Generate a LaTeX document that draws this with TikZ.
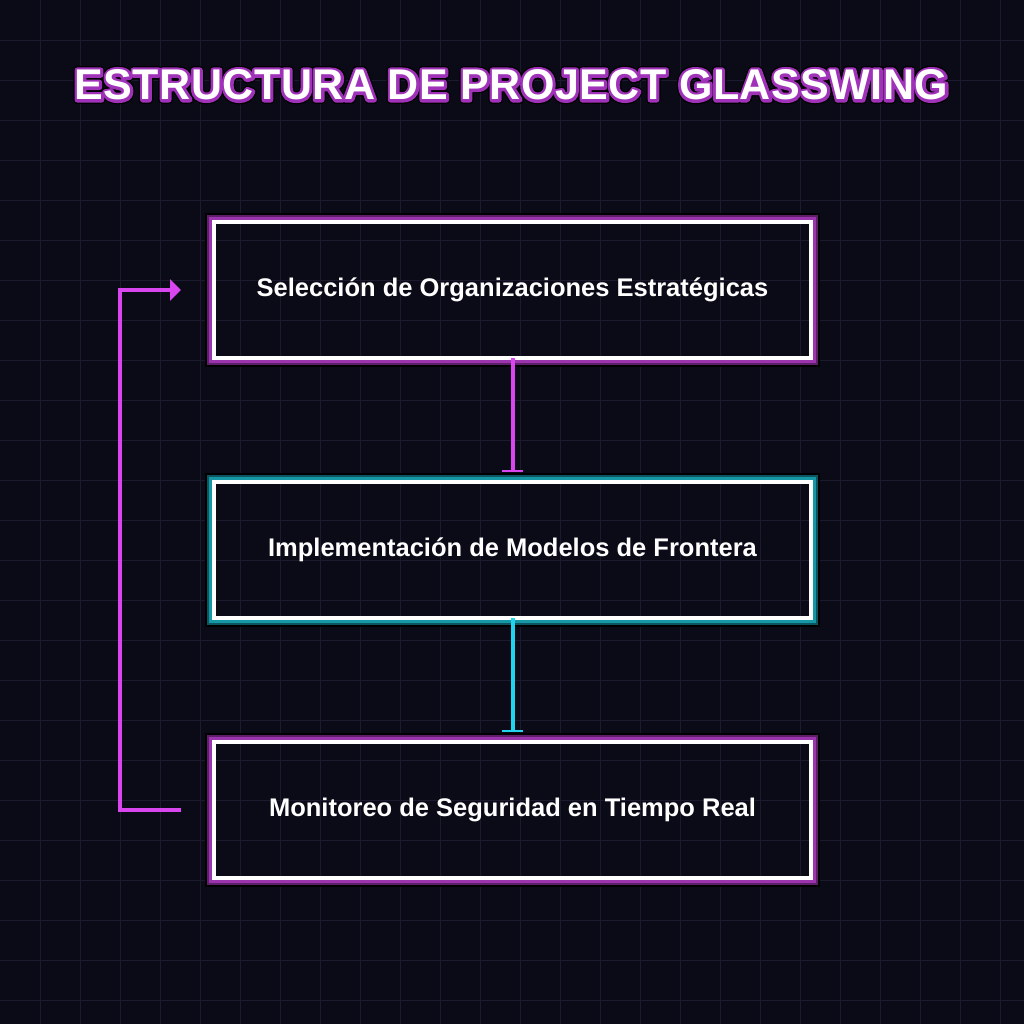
\documentclass[tikz,border=0pt]{standalone}
\usepackage{fontspec}
\setmainfont{Liberation Sans}
\newfontfamily\titlefont[LetterSpace=1.2]{Liberation Sans}
\newfontfamily\titlerim[LetterSpace=1.2,FakeBold=13]{Liberation Sans}
\newfontfamily\titleedge[LetterSpace=1.2,FakeBold=19]{Liberation Sans}
\usepackage{xcolor}
\usepackage{tikz}
\usetikzlibrary{calc,arrows.meta,positioning}
\definecolor{night}{RGB}{11,11,24}
\definecolor{gridc}{RGB}{27,26,46}
\definecolor{fuchsia}{RGB}{217,70,239}
\definecolor{cyanx}{RGB}{34,211,238}
\definecolor{violet}{RGB}{155,53,173}
\definecolor{violetd}{RGB}{94,31,106}
\definecolor{tealb}{RGB}{21,151,166}
\definecolor{teald}{RGB}{12,85,96}
\definecolor{titleglow}{RGB}{160,50,185}

% glow frame around a box: node, bright colour, dark colour
\newcommand\glowbox[3]{%
  \draw[line width=1pt,black] ($(#1.north west)+(-8,-8)$) rectangle ($(#1.south east)+(8,8)$);
  \draw[line width=1pt,#3] ($(#1.north west)+(-6,-6)$) rectangle ($(#1.south east)+(6,6)$);
  \draw[line width=1.5pt,#2] ($(#1.north west)+(-3.5,-3.5)$) rectangle ($(#1.south east)+(3.5,3.5)$);}

\begin{document}
\begin{tikzpicture}[x=0.5pt,y=-0.5pt,
     gridline/.style={gridc,line width=0.5pt},
     stepbox/.style={draw=white,line width=2pt,minimum width=298.5pt,minimum height=68pt,
       inner sep=0pt,outer sep=0pt,text=white,font=\bfseries\fontsize{12.75}{15}\selectfont},
     titletext/.style={font=\bfseries\fontsize{21.5}{26}\selectfont,inner sep=0pt,line join=round},
     flowA/.style={fuchsia,line width=2pt,shorten >=5pt,-{Bar[width=10.5pt,line width=1pt]}},
     flowB/.style={cyanx,line width=2pt,shorten >=5pt,-{Bar[width=10.5pt,line width=1pt]}},
     loopline/.style={fuchsia,line width=2pt,-{Triangle[length=5.5pt,width=10.5pt]}}]
   \useasboundingbox (0,0) rectangle (1024,1024);
   \fill[night] (0,0) rectangle (1024,1024);
   \foreach \i in {40,80,...,1000} {
     \draw[gridline] (\i,0) -- (\i,1024);
     \draw[gridline] (0,\i) -- (1024,\i);
   }
   % title with outline
   \node[titletext,text=black] at (511.5,85) {\special{pdf:code 1 j}\titleedge ESTRUCTURA DE PROJECT GLASSWING};
   \node[titletext,text=titleglow] at (511.5,85) {\special{pdf:code 1 j}\titlerim ESTRUCTURA DE PROJECT GLASSWING};
   \node[titletext,text=white] (title) at (511.5,85) {\titlefont ESTRUCTURA DE PROJECT GLASSWING};
   % boxes
   \node[stepbox] (b1) at (512.5,290) {Selección de Organizaciones Estratégicas};
   \node[stepbox,below=62pt of b1] (b2) {Implementación de Modelos de Frontera};
   \node[stepbox,below=62pt of b2] (b3) {Monitoreo de Seguridad en Tiempo Real};
   \glowbox{b1}{violet}{violetd}
   \glowbox{b2}{tealb}{teald}
   \glowbox{b3}{violet}{violetd}
   % connectors
   \draw[flowA] (b1.south) -- (b2.north);
   \draw[flowB] (b2.south) -- (b3.north);
   \coordinate (fbout) at ([xshift=-16.5pt]b3.west);
   \coordinate (fbin) at ([xshift=-16.5pt]b1.west);
   \draw[loopline] (fbout) -- ++(-61,0) |- (fbin);
\end{tikzpicture}
\end{document}
